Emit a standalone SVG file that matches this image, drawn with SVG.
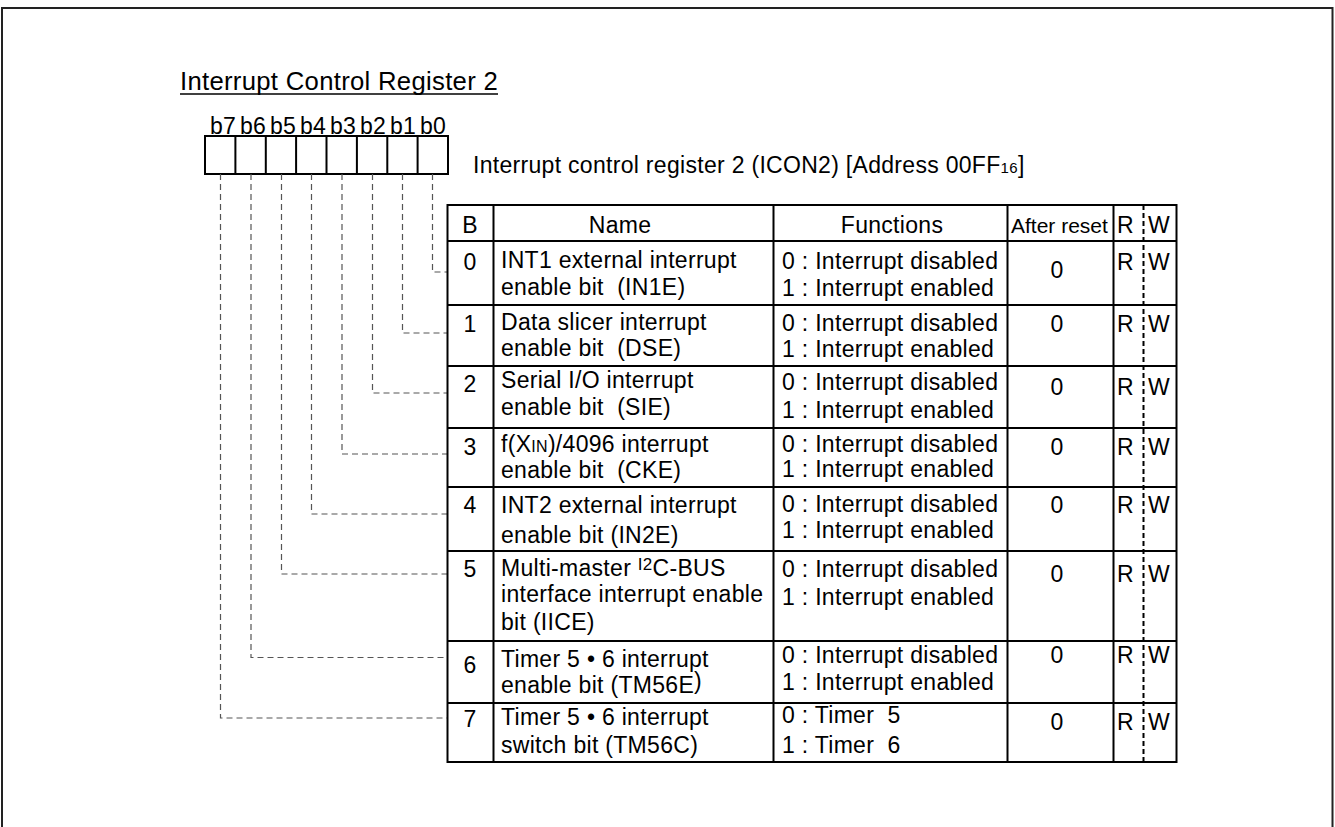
<svg xmlns="http://www.w3.org/2000/svg" width="1335" height="827" viewBox="0 0 1335 827">
<style>
.t{font-family:"Liberation Sans",Arial,Helvetica,sans-serif;font-size:23px;fill:#000;white-space:pre;letter-spacing:0.3px}
.m{text-anchor:middle}
.ln{stroke:#000;stroke-width:2;fill:none}
.ld{stroke:#555;stroke-width:1.2;stroke-dasharray:6 4;fill:none}
.rw{stroke:#000;stroke-width:2;stroke-dasharray:5 3;fill:none}
</style>
<rect width="1335" height="827" fill="#fff"/>
<path d="M2,840 V8 H1332.5 V840" stroke="#222" stroke-width="2" fill="none"/>

<g id="title">
<text class="t" x="180" y="90" style="font-size:26px" textLength="318" lengthAdjust="spacingAndGlyphs">Interrupt Control Register 2</text>
<line x1="180" y1="94" x2="498" y2="94" stroke="#000" stroke-width="1.5"/>
</g>

<g id="bits">
<rect x="205" y="136" width="243" height="38" class="ln"/>
<path class="ln" d="M235.4,136V174M265.8,136V174M296.1,136V174M326.5,136V174M356.9,136V174M387.3,136V174M417.6,136V174"/>
<text class="t" x="210" y="134">b7</text>
<text class="t" x="240" y="134">b6</text>
<text class="t" x="270" y="134">b5</text>
<text class="t" x="300" y="134">b4</text>
<text class="t" x="330" y="134">b3</text>
<text class="t" x="360" y="134">b2</text>
<text class="t" x="390" y="134">b1</text>
<text class="t" x="420" y="134">b0</text>
</g>

<g id="subtitle">
<text class="t" x="473" y="173">Interrupt control register 2 (ICON2) [Address 00FF<tspan style="font-size:15px">16</tspan>]</text>
</g>

<g id="connectors">
<path class="ld" d="M432.5,174V272H447"/>
<path class="ld" d="M402.5,174V333H447"/>
<path class="ld" d="M372.5,174V393H447"/>
<path class="ld" d="M342,174V454H447"/>
<path class="ld" d="M311.5,174V514H447"/>
<path class="ld" d="M281.5,174V574H447"/>
<path class="ld" d="M251,174V657.5H447"/>
<path class="ld" d="M220.5,174V718H447"/>
</g>

<g id="table">
<rect x="447.5" y="205" width="729" height="557" class="ln"/>
<path class="ln" d="M493.5,205V762M773.5,205V762M1007.5,205V762M1113.5,205V762"/>
<path class="ln" d="M447.5,241H1176.5M447.5,305H1176.5M447.5,366H1176.5M447.5,428H1176.5M447.5,487H1176.5M447.5,551H1176.5M447.5,641H1176.5M447.5,703H1176.5"/>
<path class="rw" d="M1143.5,205V762"/>
</g>

<g id="header">
<text class="t m" x="470" y="233">B</text>
<text class="t m" x="620" y="233">Name</text>
<text class="t m" x="892" y="233">Functions</text>
<text class="t" x="1011" y="233" style="font-size:21px;letter-spacing:0">After reset</text>
<text class="t" x="1117" y="233">R</text>
<text class="t" x="1148" y="233">W</text>
</g>

<g id="row0">
<text class="t m" x="470" y="270">0</text>
<text class="t" x="501" y="268">INT1 external interrupt</text>
<text class="t" x="501" y="295">enable bit  (IN1E)</text>
<text class="t" x="782" y="269">0 : Interrupt disabled</text>
<text class="t" x="782" y="296">1 : Interrupt enabled</text>
<text class="t m" x="1057" y="278">0</text>
<text class="t" x="1117" y="270">R</text>
<text class="t" x="1148" y="270">W</text>
</g>

<g id="row1">
<text class="t m" x="470" y="332">1</text>
<text class="t" x="501" y="330">Data slicer interrupt</text>
<text class="t" x="501" y="356">enable bit  (DSE)</text>
<text class="t" x="782" y="331">0 : Interrupt disabled</text>
<text class="t" x="782" y="357">1 : Interrupt enabled</text>
<text class="t m" x="1057" y="332">0</text>
<text class="t" x="1117" y="332">R</text>
<text class="t" x="1148" y="332">W</text>
</g>

<g id="row2">
<text class="t m" x="470" y="392">2</text>
<text class="t" x="501" y="388">Serial I/O interrupt</text>
<text class="t" x="501" y="415">enable bit  (SIE)</text>
<text class="t" x="782" y="390">0 : Interrupt disabled</text>
<text class="t" x="782" y="418">1 : Interrupt enabled</text>
<text class="t m" x="1057" y="395">0</text>
<text class="t" x="1117" y="395">R</text>
<text class="t" x="1148" y="395">W</text>
</g>

<g id="row3">
<text class="t m" x="470" y="455">3</text>
<text class="t" x="501" y="452">f(X<tspan style="font-size:16px">IN</tspan>)/4096 interrupt</text>
<text class="t" x="501" y="478">enable bit  (CKE)</text>
<text class="t" x="782" y="452">0 : Interrupt disabled</text>
<text class="t" x="782" y="477">1 : Interrupt enabled</text>
<text class="t m" x="1057" y="455">0</text>
<text class="t" x="1117" y="455">R</text>
<text class="t" x="1148" y="455">W</text>
</g>

<g id="row4">
<text class="t m" x="470" y="513">4</text>
<text class="t" x="501" y="513">INT2 external interrupt</text>
<text class="t" x="501" y="543">enable bit (IN2E)</text>
<text class="t" x="782" y="512">0 : Interrupt disabled</text>
<text class="t" x="782" y="538">1 : Interrupt enabled</text>
<text class="t m" x="1057" y="513">0</text>
<text class="t" x="1117" y="513">R</text>
<text class="t" x="1148" y="513">W</text>
</g>

<g id="row5">
<text class="t m" x="470" y="577">5</text>
<text class="t" x="501" y="576">Multi-master <tspan dy="-6" style="font-size:17px">I2</tspan><tspan dy="6">C-BUS</tspan></text>
<text class="t" x="501" y="602">interface interrupt enable</text>
<text class="t" x="501" y="630">bit (IICE)</text>
<text class="t" x="782" y="577">0 : Interrupt disabled</text>
<text class="t" x="782" y="605">1 : Interrupt enabled</text>
<text class="t m" x="1057" y="582">0</text>
<text class="t" x="1117" y="582">R</text>
<text class="t" x="1148" y="582">W</text>
</g>

<g id="row6">
<text class="t m" x="470" y="673">6</text>
<text class="t" x="501" y="667">Timer 5 • 6 interrupt</text>
<text class="t" x="501" y="693">enable bit (TM56E<tspan dy="-4">)</tspan></text>
<text class="t" x="782" y="663">0 : Interrupt disabled</text>
<text class="t" x="782" y="690">1 : Interrupt enabled</text>
<text class="t m" x="1057" y="663">0</text>
<text class="t" x="1117" y="663">R</text>
<text class="t" x="1148" y="663">W</text>
</g>

<g id="row7">
<text class="t m" x="470" y="727">7</text>
<text class="t" x="501" y="725">Timer 5 • 6 interrupt</text>
<text class="t" x="501" y="753">switch bit (TM56C)</text>
<text class="t" x="782" y="723">0 : Timer  5</text>
<text class="t" x="782" y="753">1 : Timer  6</text>
<text class="t m" x="1057" y="730">0</text>
<text class="t" x="1117" y="730">R</text>
<text class="t" x="1148" y="730">W</text>
</g>
</svg>
